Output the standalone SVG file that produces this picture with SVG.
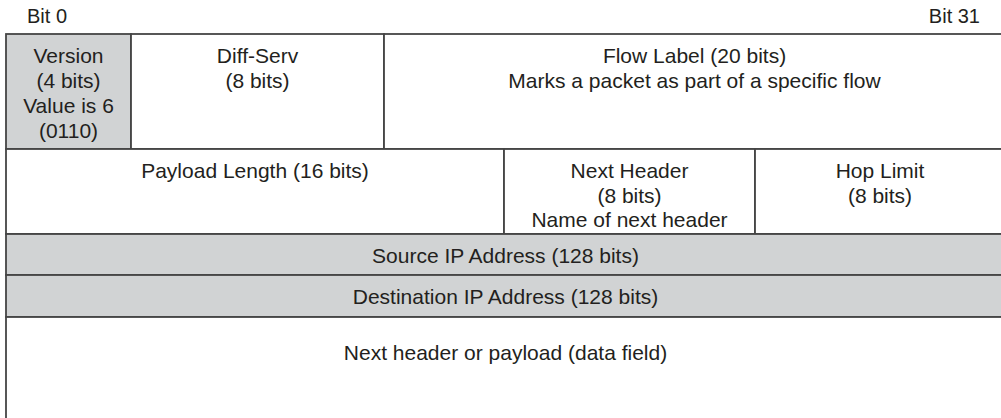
<svg xmlns="http://www.w3.org/2000/svg" width="1001" height="418" viewBox="0 0 1001 418">
<style>
text{font-family:"Liberation Sans",Arial,Helvetica,sans-serif;font-size:21px;fill:#231f20;text-anchor:middle}
.lbl{font-size:20px}
.st{text-anchor:start}
.en{text-anchor:end}
.cell{fill:#ffffff;stroke:#454545;stroke-width:1.8}
.gray{fill:#d1d3d4}
</style>
<rect width="1001" height="418" fill="#ffffff"/>
<g id="bit-labels">
<text class="lbl st" x="27" y="23">Bit 0</text>
<text class="lbl en" x="980" y="23">Bit 31</text>
</g>
<g id="version">
<rect class="cell gray" x="6" y="34" width="125" height="115"/>
<text x="68.5" y="63">Version</text>
<text x="68.5" y="88">(4 bits)</text>
<text x="68.5" y="113">Value is 6</text>
<text x="68.5" y="138">(0110)</text>
</g>
<g id="diff-serv">
<rect class="cell" x="131" y="34" width="253" height="115"/>
<text x="257.5" y="63">Diff-Serv</text>
<text x="257.5" y="88">(8 bits)</text>
</g>
<g id="flow-label">
<rect class="cell" x="384" y="34" width="621" height="115"/>
<text x="694.5" y="63">Flow Label (20 bits)</text>
<text x="694.5" y="88">Marks a packet as part of a specific flow</text>
</g>
<g id="payload-length">
<rect class="cell" x="6" y="149" width="498" height="85"/>
<text x="255" y="178">Payload Length (16 bits)</text>
</g>
<g id="next-header">
<rect class="cell" x="504" y="149" width="251" height="85"/>
<text x="629.5" y="178">Next Header</text>
<text x="629.5" y="202.5">(8 bits)</text>
<text x="629.5" y="227">Name of next header</text>
</g>
<g id="hop-limit">
<rect class="cell" x="755" y="149" width="250" height="85"/>
<text x="880" y="178">Hop Limit</text>
<text x="880" y="202.5">(8 bits)</text>
</g>
<g id="source-ip">
<rect class="cell gray" x="6" y="234" width="999" height="41"/>
<text x="505.5" y="263">Source IP Address (128 bits)</text>
</g>
<g id="destination-ip">
<rect class="cell gray" x="6" y="275" width="999" height="42"/>
<text x="505.5" y="304">Destination IP Address (128 bits)</text>
</g>
<g id="data-field">
<rect class="cell" x="6" y="317" width="999" height="110"/>
<text x="505.5" y="360">Next header or payload (data field)</text>
</g>
<g id="connectors"></g>
</svg>
